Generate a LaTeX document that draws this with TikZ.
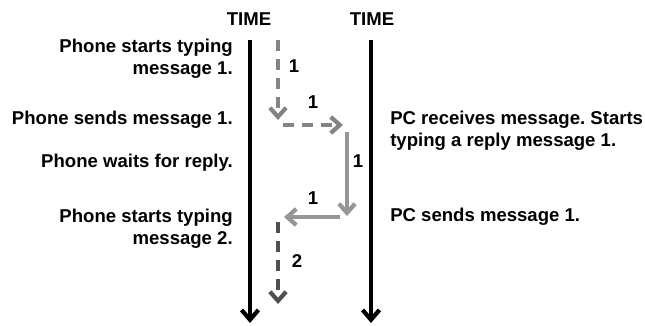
\documentclass[tikz,border=0pt]{standalone}
\usepackage{fontspec}
\setmainfont{Liberation Sans}
\usetikzlibrary{arrows.meta}
\definecolor{MsgGray}{RGB}{132,132,132}
\definecolor{ReplyGray}{RGB}{150,150,150}
\definecolor{NextGray}{RGB}{80,80,80}
\tikzset{
	timeline/.style={draw=black,line width=3pt,-{Straight Barb[length=7pt,width=12pt]}},
	msg/.style={line width=3pt,-{Straight Barb[length=6.5pt,width=11.5pt]}},
	typing/.style={msg,dash pattern=on 8pt off 5.5pt},
	lbl/.style={font=\bfseries\fontsize{13.2}{15.8}\selectfont,inner sep=0pt},
	evt/.style={lbl,align=right,anchor=east},
	pcevt/.style={lbl,align=left,anchor=west},
}
\frenchspacing
\begin{document}
\begin{tikzpicture}[x=0.025cm,y=-0.025cm]
	\useasboundingbox (0,0) rectangle (645,325);
	% the two time axes
	\node[lbl] (phone) at (249,19) {TIME};
	\node[lbl] (pc) at (372,19) {TIME};
	\coordinate (p0) at (250,40);
	\coordinate (p1) at (250,323);
	\coordinate (c0) at (371,40);
	\coordinate (c1) at (371,323);
	\draw[timeline] (p0) -- (p1);
	\draw[timeline] (c0) -- (c1);
	% message steps
	\coordinate (m1) at (278,40);
	\coordinate (m2) at (278,120);
	\coordinate (m3) at (283,125);
	\coordinate (m4) at (343,125);
	\coordinate (m5) at (347,132);
	\coordinate (m6) at (347,216);
	\coordinate (m7) at (340,217);
	\coordinate (m8) at (284,217);
	\coordinate (m9) at (278,222);
	\coordinate (m10) at (278,304);
	\draw[typing,draw=MsgGray] (m1) -- (m2);
	\draw[typing,draw=MsgGray] (m3) -- (m4);
	\draw[msg,draw=ReplyGray] (m5) -- (m6);
	\draw[msg,draw=ReplyGray] (m7) -- (m8);
	\draw[typing,draw=NextGray] (m9) -- (m10);
	\foreach \n/\x/\y/\t in {n1/294/66/1,n2/313/102/1,n3/358/161/1,n4/313/198/1,n5/297/261/2}
	\node[lbl] (\n) at (\x,\y) {\t};
	% events on the phone side
	\node[evt] (s1) at (233,59) {Phone starts typing\\message 1.};
	\node[evt] (s2) at (233,120) {Phone sends message 1.};
	\node[evt] (s3) at (233,163) {Phone waits for reply.};
	\node[evt] (s4) at (233,229) {Phone starts typing\\message 2.};
	% events on the pc side
	\node[pcevt] (r1) at (390,131) {PC receives message. Starts\\typing a reply message 1.};
	\node[pcevt] (r2) at (390,217) {PC sends message 1.};
\end{tikzpicture}
\end{document}
